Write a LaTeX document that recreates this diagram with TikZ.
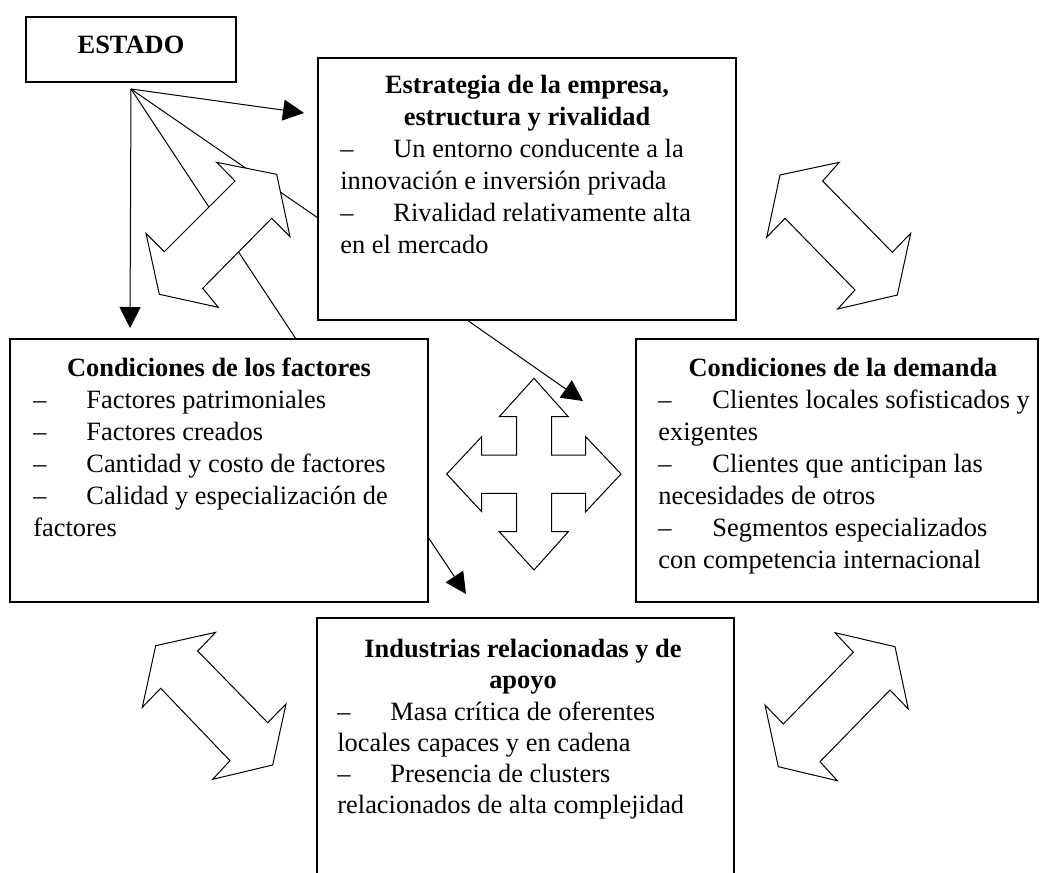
\documentclass[tikz,border=0pt]{standalone}
\usepackage{fontspec}
\setmainfont{Liberation Serif}
\usetikzlibrary{arrows.meta}
\begin{document}
\begin{tikzpicture}[x=0.5pt,y=-0.5pt,
  box/.style={draw, line width=0.7pt, inner sep=0pt, outer sep=0pt, anchor=north west},
  txt/.style={inner sep=0pt, anchor=base west, font=\fontsize{13.2pt}{16pt}\selectfont},
  hd/.style={inner sep=0pt, anchor=base, font=\fontsize{13.2pt}{16pt}\selectfont\bfseries},
  con/.style={line width=0.5pt},
  arr/.style={con, -{Triangle[length=10.5pt,width=10.5pt]}},
  blk/.style={draw, fill=white, line width=0.5pt, line join=miter}]
\useasboundingbox (0,0) rectangle (1040,873);
\clip (0,0) rectangle (1040,873);
% boxes
\node[box, minimum width=105pt, minimum height=32.5pt] (estado) at (26,17) {};
\node[box, minimum width=209pt, minimum height=131pt] (strat) at (318,58) {};
\node[box, minimum width=209pt, minimum height=131.5pt] (fact) at (10,339) {};
\node[box, minimum width=201pt, minimum height=131.5pt] (dem) at (636,339) {};
\node[box, minimum width=208.5pt, minimum height=140pt] (ind) at (317,618) {};
% connectors
\coordinate (eo) at ([yshift=-3.5pt]estado.south);
\coordinate (e1) at (304,113);
\coordinate (e2) at (130,328);
\coordinate (s1t) at (583,401);
\coordinate (f1t) at (466,594);
\draw[arr] (eo) -- (e1);
\draw[arr] (eo) -- (e2);
\draw[con] (eo) -- ([yshift=-80pt]strat.north west);
\draw[con] (eo) -- ([xshift=143pt]fact.north west);
\draw[arr] ([xshift=74.5pt]strat.south west) -- (s1t);
\draw[arr] ([yshift=-99pt]fact.north east) -- (f1t);
% double arrows
\draw[blk] (216.7,162.3) -- (276.7,174.3) -- (290,236.7) -- (271.7,218.3) -- (202.7,288.3) -- (218.3,307.3) -- (159.3,294.3) -- (146,233.3) -- (164.3,251.7) -- (235,181) -- cycle;
\draw[blk] (839.3,162.3) -- (780,175) -- (766.7,237.3) -- (785,218.3) -- (855,290) -- (837.7,309) -- (897.3,295) -- (910.7,233.3) -- (892.3,252.3) -- (822.7,181) -- cycle;
\draw[blk] (215.7,632.3) -- (155.7,645.7) -- (142.3,707.3) -- (160.7,688.3) -- (230,760.7) -- (212.7,779.3) -- (272.7,765) -- (286,704) -- (267.7,722.7) -- (197.7,651) -- cycle;
\draw[blk] (835,632.7) -- (895,646.7) -- (908.3,709) -- (890,690) -- (820,761.7) -- (837.3,780.7) -- (778.3,766.7) -- (765,705) -- (783.3,724) -- (853.3,652.3) -- cycle;
% cross
\draw[blk] (534,378.3) -- (568.3,416.7) -- (551.7,416.7) -- (551.7,455) -- (585.7,455) -- (585.7,436.7) -- (621,474) -- (585.7,511.7) -- (585.7,493.3) -- (551.7,493.3) -- (551.7,531.7) -- (568.3,531.7) -- (534,570) -- (499.3,531.7) -- (516.7,531.7) -- (516.7,493.3) -- (481.7,493.3) -- (481.7,511.7) -- (446.7,474) -- (481.7,436.7) -- (481.7,455) -- (516.7,455) -- (516.7,416.7) -- (499.3,416.7) -- cycle;
% texts
\node[hd] (et) at (131,53) {ESTADO};
\node[hd] (s1) at (527,93) {Estrategia de la empresa,};
\node[hd] (s2) at (527,125) {estructura y rivalidad};
\node[txt] (s3d) at (340,157) {–};
\node[txt] (s3) at (393,157) {Un entorno conducente a la};
\node[txt] (s4) at (340,189) {innovación e inversión privada};
\node[txt] (s5d) at (340,221) {–};
\node[txt] (s5) at (393,221) {Rivalidad relativamente alta};
\node[txt] (s6) at (340,253) {en el mercado};
\node[hd] (f1) at (219,376) {Condiciones de los factores};
\node[txt] (f2d) at (33,408) {–};
\node[txt] (f2) at (86,408) {Factores patrimoniales};
\node[txt] (f3d) at (33,440) {–};
\node[txt] (f3) at (86,440) {Factores creados};
\node[txt] (f4d) at (33,472) {–};
\node[txt] (f4) at (86,472) {Cantidad y costo de factores};
\node[txt] (f5d) at (33,504) {–};
\node[txt] (f5) at (86,504) {Calidad y especialización de};
\node[txt] (f6) at (33,536) {factores};
\node[hd] (d1) at (843,376) {Condiciones de la demanda};
\node[txt] (d2d) at (658,408) {–};
\node[txt] (d2) at (712,408) {Clientes locales sofisticados y};
\node[txt] (d3) at (658,440) {exigentes};
\node[txt] (d4d) at (658,472) {–};
\node[txt] (d4) at (712,472) {Clientes que anticipan las};
\node[txt] (d5) at (658,504) {necesidades de otros};
\node[txt] (d6d) at (658,536) {–};
\node[txt] (d6) at (712,536) {Segmentos especializados};
\node[txt] (d7) at (658,568) {con competencia internacional};
\node[hd] (i1) at (523,657) {Industrias relacionadas y de};
\node[hd] (i2) at (523,688) {apoyo};
\node[txt] (i3d) at (337,720) {–};
\node[txt] (i3) at (390,720) {Masa crítica de oferentes};
\node[txt] (i4) at (337,751) {locales capaces y en cadena};
\node[txt] (i5d) at (337,782) {–};
\node[txt] (i5) at (390,782) {Presencia de clusters};
\node[txt] (i6) at (337,813) {relacionados de alta complejidad};
\end{tikzpicture}
\end{document}
